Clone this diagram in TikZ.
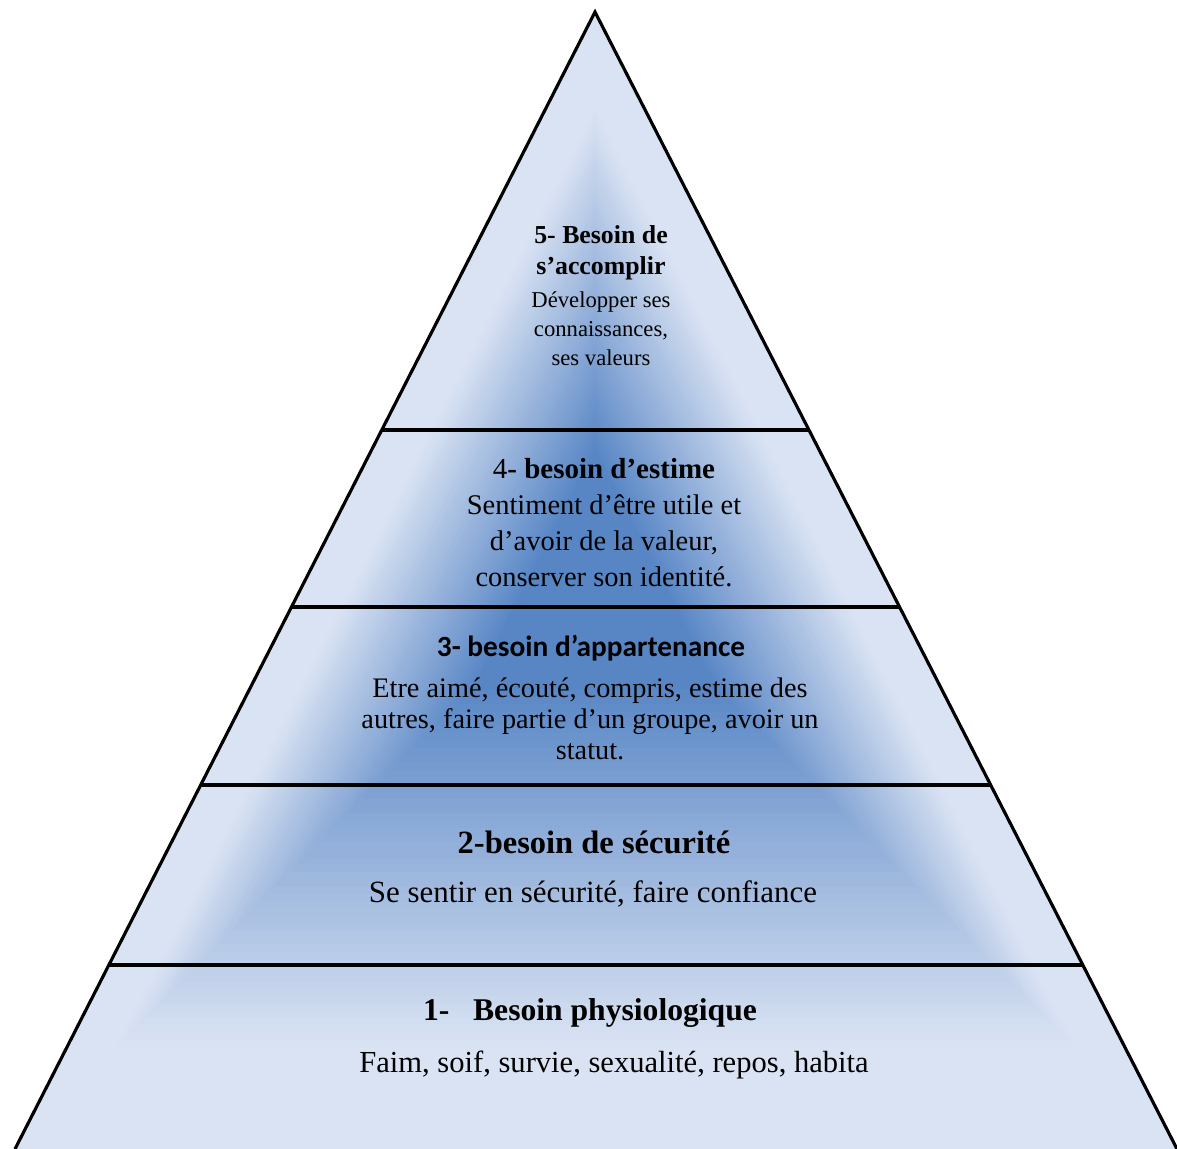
\documentclass[tikz,border=0pt]{standalone}
\usepackage{fontspec}
\setmainfont{Liberation Serif}
\newfontfamily\sansbold{Carlito}
\usetikzlibrary{calc}

\definecolor{pyrlight}{RGB}{218,227,243}
\definecolor{pyrdark}{RGB}{88,134,197}

\newcommand{\fsz}[2]{\fontsize{#1}{#2}\selectfont}

\begin{document}
\begin{tikzpicture}[x=0.02cm, y=-0.02cm,
  edge/.style={line width=1.8pt, black},
  sep/.style={line width=2.2pt, black},
  txt/.style={align=center, inner sep=0pt}]
  \useasboundingbox (0,0) rectangle (1177,1149);

  % Corners of the pyramid
  \coordinate (apex) at (595,12);
  \coordinate (bl) at (15,1149);
  \coordinate (br) at (1177,1149);
  \coordinate (mid) at (595,565);

  % Shading, darker towards the middle
  \foreach \i in {0,...,79}{
    \pgfmathsetmacro\s{1-\i/80}
    \pgfmathsetmacro\p{100*max(0,min(1,(0.83-\s)/0.62))}
    \fill[pyrdark!\p!pyrlight, shift={(mid)}, scale=\s] (0,-553) -- (-580,584) -- (582,584) -- cycle;
  }

  % Level lines
  \foreach \t/\n in {0.3676/4, 0.5233/3, 0.6799/2, 0.8382/1}{
    \draw[sep] ($(apex)!\t!(bl)$) coordinate (L\n) -- ($(apex)!\t!(br)$) coordinate (R\n);
  }

  % Sides
  \draw[edge, line join=miter] (bl) -- (apex) -- (br);

  % Level 5
  \node[txt, font=\bfseries\fsz{14.7}{17.6}] (t5) at (601,253) {5- Besoin de\\s’accomplir};
  \node[txt, font=\fsz{12.9}{16.5}] (b5) at (601,329) {Développer ses\\connaissances,\\ses valeurs};

  % Level 4
  \node[txt, font=\fsz{16.5}{20}] (t4) at (604,469) {4\textbf{- besoin d’estime}};
  \node[txt, font=\fsz{16.2}{20.5}] (b4) at (604,541) {Sentiment d’être utile et\\d’avoir de la valeur,\\conserver son identité.};

  % Level 3
  \node[txt, font=\sansbold\bfseries\fsz{16.7}{20}] (t3) at (591,648) {3- besoin d’appartenance};
  \node[txt, font=\fsz{16.1}{17.6}] (b3) at (590,719) {Etre aimé, écouté, compris, estime des\\autres, faire partie d’un groupe, avoir un\\statut.};

  % Level 2
  \node[txt, font=\bfseries\fsz{18.5}{22}] (t2) at (594,842) {2-besoin de sécurité};
  \node[txt, font=\fsz{17.6}{21}] (b2) at (593,894) {Se sentir en sécurité, faire confiance};

  % Level 1
  \node[txt, font=\bfseries\fsz{18}{22}] (t1) at (590,1013) {1-\hspace{0.75em}Besoin physiologique};
  \node[txt, font=\fsz{17.4}{21}] (b1) at (614,1065) {Faim, soif, survie, sexualité, repos, habita};
\end{tikzpicture}
\end{document}
